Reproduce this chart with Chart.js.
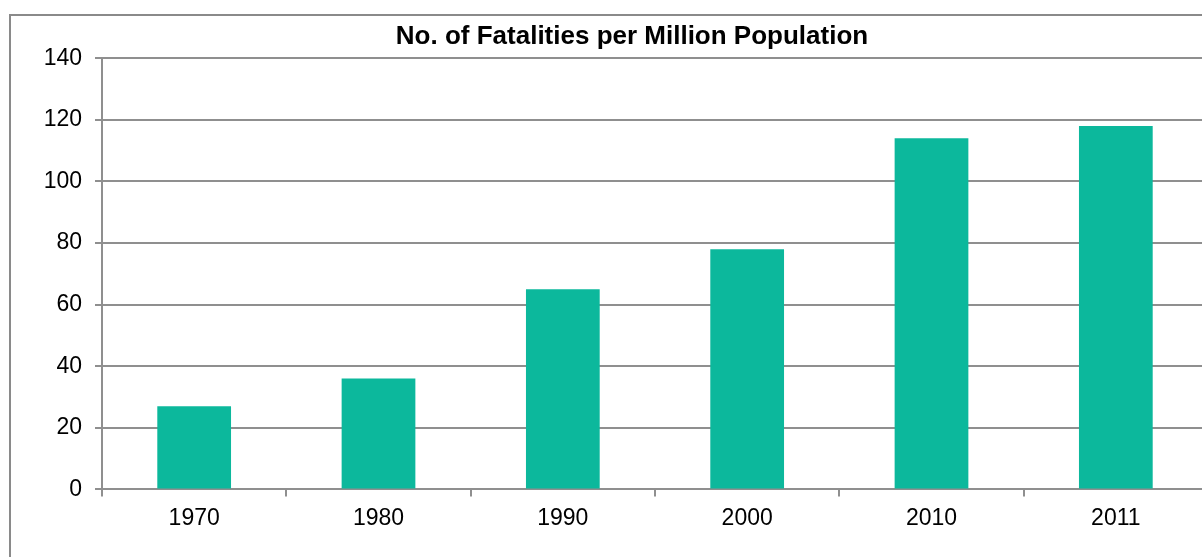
<!DOCTYPE html>
<html>
<head>
<meta charset="utf-8">
<script src="https://cdn.jsdelivr.net/npm/chart.js@4"></script>
<style>
  html, body { margin: 0; padding: 0; background: #fff; overflow: hidden; width: 1202px; height: 557px; }
  #frame {
    position: absolute; left: 9px; top: 14px;
    width: 1250px; height: 600px;
    border: 2px solid #8a8a8a; background: #fff;
  }
  #wrap { position: absolute; left: 0; top: 0; width: 1242px; height: 541px; }
</style>
</head>
<body>
<div id="frame"><div id="wrap"><canvas id="c"></canvas></div></div>
<script>
// chart values
const years      = ['1970', '1980', '1990', '2000', '2010', '2011'];
const fatalities = [27, 36, 65, 78, 114, 118];
const chartTitle = 'No. of Fatalities per Million Population';

const BAR_COLOR  = '#0cb89c';
const GRID_COLOR = '#8f8f8f';
const FONT       = '"Liberation Sans", Arial, sans-serif';

new Chart(document.getElementById('c'), {
  type: 'bar',
  data: {
    labels: years,
    datasets: [{
      data:               fatalities,
      backgroundColor:    BAR_COLOR,
      borderWidth:        0,
      barPercentage:      0.4,
      categoryPercentage: 1.0,
    }],
  },
  options: {
    responsive:          true,
    maintainAspectRatio: false,
    animation:           false,
    layout: { padding: { left: 0, right: 0, top: 0, bottom: 17 } },
    plugins: {
      legend:  { display: false },
      tooltip: { enabled: false },
      title: {
        display: true,
        text:    chartTitle,
        color:   '#000',
        font:    { family: FONT, size: 26, weight: 'bold' },
        padding: { top: 5, bottom: 6 },
      },
    },
    scales: {
      x: {
        grid: {
          display:         true,
          drawOnChartArea: false,
          drawTicks:       true,
          tickLength:      7,
          color:           GRID_COLOR,
          lineWidth:       2,
          offset:          true,
        },
        border: { display: true, color: GRID_COLOR, width: 2 },
        ticks: { color: '#000', font: { family: FONT, size: 23 }, padding: 8 },
      },
      y: {
        min: 0,
        max: 140,
        afterFit: axis => { axis.width = 91; },
        ticks: {
          stepSize: 20,
          color:    '#000',
          font:     { family: FONT, size: 23 },
          padding:  13,
        },
        grid: { color: GRID_COLOR, lineWidth: 2, tickLength: 7 },
        border: { display: true, color: GRID_COLOR, width: 2 },
      },
      // empty spacer on the right: the plot runs past the frame's visible edge
      spacer: {
        type:     'linear',
        position: 'right',
        grid:     { display: false },
        ticks:    { display: false },
        border:   { display: false },
        afterFit: axis => { axis.width = 45; },
      },
    },
  },
});
</script>
</body>
</html>
